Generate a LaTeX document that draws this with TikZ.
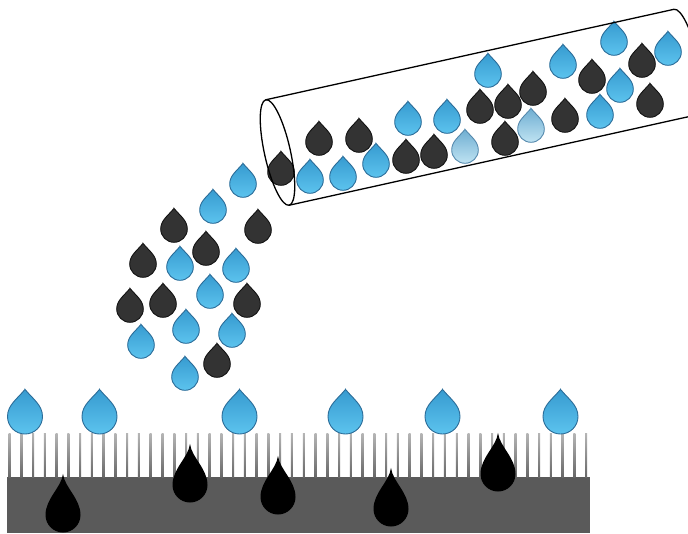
\documentclass[tikz,border=0pt]{standalone}
\usepackage{tikz}
\usetikzlibrary{calc}

\definecolor{water}{HTML}{5CC3EE}
\definecolor{waterdeep}{HTML}{379BD0}
\definecolor{waterline}{HTML}{2B6C98}
\definecolor{paledeep}{HTML}{6FAED2}
\definecolor{palelight}{HTML}{BFE3F2}
\definecolor{oil}{HTML}{333333}
\definecolor{oilline}{HTML}{121212}
\definecolor{membrane}{HTML}{5A5A5A}
\definecolor{pillar}{HTML}{7A7A7A}

% unit drop: round body of radius 1 at the origin, tip above it
\newcommand{\droppath}{(0,-1.55) .. controls (0.45,-1.0) and (1,-0.65) .. (1,0)
  .. controls (1,0.5523) and (0.5523,1) .. (0,1)
  .. controls (-0.5523,1) and (-1,0.5523) .. (-1,0)
  .. controls (-1,-0.65) and (-0.45,-1.0) .. cycle}
% same drop with a long thin tail
\newcommand{\tailpath}{(0,-2.35) .. controls (0.1,-1.55) and (1,-0.95) .. (1,0)
  .. controls (1,0.5523) and (0.5523,1) .. (0,1)
  .. controls (-0.5523,1) and (-1,0.5523) .. (-1,0)
  .. controls (-1,-0.95) and (-0.1,-1.55) .. cycle}

\begin{document}
\begin{tikzpicture}[x=1pt, y=-1pt,
    bluedrop/.style={draw=waterline, line width=0.9pt, top color=waterdeep, bottom color=water},
    paledrop/.style={draw=waterline!80, line width=0.9pt, top color=paledeep, bottom color=palelight},
    oildrop/.style={draw=oilline, line width=0.9pt, fill=oil},
    sunkdrop/.style={fill=black},
    tube/.style={line width=1.3pt, black}]
  \useasboundingbox (0,0) rectangle (688,533);

  % Membrane with its pillars
  \fill[membrane] (7,477) rectangle (590,533);
  \foreach \i in {0,...,49} {
    \shade[top color=pillar!55, bottom color=pillar!85!black] ({8.5+11.77*\i},433) rectangle ({10.5+11.77*\i},477);
  }

  % Water resting on the pillar tips
  \foreach \x in {25, 99.5, 239.5, 345.5, 442.5, 560.5} {
    \path[bluedrop, shift={(\x,416.5)}, scale=17.5] \droppath;
  }

  % Oil going through the membrane
  \foreach \x/\y in {63/515, 190/485, 278/497, 391/509, 498/474} {
    \path[sunkdrop, shift={(\x,\y)}, scale=17.5] \tailpath;
  }

  % Falling stream
  \foreach \x/\y in {243/184, 213/210, 180/267, 236/269, 210/295, 141/345, 186/330, 232/334, 185/377} {
    \path[bluedrop, shift={(\x,\y)}, scale=13.3] \droppath;
  }
  \foreach \x/\y in {174/229, 258/230, 206/252, 143/264, 130/309, 163/304, 247/304, 217/364} {
    \path[oildrop, shift={(\x,\y)}, scale=13.3] \droppath;
  }

  % Mixture inside the tube
  \foreach \x/\y in {310/180, 343/177, 376/164, 408/122, 447/120, 488/74, 563/65, 600/115, 620/89, 614/42, 668/52} {
    \path[bluedrop, shift={(\x,\y)}, scale=13.3] \droppath;
  }
  \foreach \x/\y in {465/150, 531/129} {
    \path[paledrop, shift={(\x,\y)}, scale=13.3] \droppath;
  }
  \foreach \x/\y in {281/172, 319/142, 359/139, 406/160, 434/155, 480/110, 505/142, 508/105, 533/92, 565/119, 592/80, 642/64, 650/104} {
    \path[oildrop, shift={(\x,\y)}, scale=13.3] \droppath;
  }

  % Tube
  \begin{scope}[shift={(277.5,152.5)}, rotate=12.5]
    \coordinate (inlet) at (0,0);
    \draw[tube] (inlet) ellipse [x radius=13, y radius=54];
    \draw[tube] (0,-54) -- (418,-54);
    \draw[tube] (0,54) -- (418,54);
    \draw[tube] (418,-54) .. controls (425.2,-54) and (431,-29.8) .. (431,0)
      .. controls (431,29.8) and (425.2,54) .. (418,54);
  \end{scope}
\end{tikzpicture}
\end{document}
